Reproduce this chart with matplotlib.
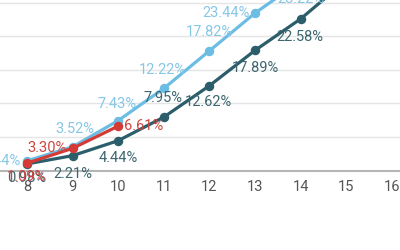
import matplotlib.pyplot as plt

# x categories and series values (percent)
x_ticks = [8, 9, 10, 11, 12, 13, 14, 15, 16]

x_light = [8, 9, 10, 11, 12, 13, 14]
light = [1.44, 3.52, 7.43, 12.22, 17.82, 23.44, 28.22]

x_dark = [8, 9, 10, 11, 12, 13, 14, 15]
dark = [0.98, 2.21, 4.44, 7.95, 12.62, 17.89, 22.58, 28.3]

x_red = [8, 9, 10]
red = [1.09, 3.30, 6.61]

# label placement per point: (dx px, dy px, ha)
light_pos = [(-6, 0, "right"), (2, 18, "center"), (-1, 17, "center"),
             (-1, 18, "center"), (0, 19, "center"), (-5, 0, "right"),
             (0, -18, "center")]
dark_pos = [(0, -14, "center"), (0, -18, "center"), (0, -17, "center"),
            (-1, 19, "center"), (-1, -16, "center"), (0, -18, "center"),
            (-1, -18, "center"), (0, 18, "center")]
red_pos = [(0, -14, "center"), (-6, 0, "right"), (6, 0, "left")]

LIGHT = "#6cbde3"
DARK = "#2b5e6a"
RED = "#d43b36"


def main() -> None:
    plt.rcParams["font.family"] = ["Roboto", "DejaVu Sans"]
    fig = plt.figure(figsize=(4, 2.5), dpi=100)
    # bottom of axes sits on the zero line (pixel 170.5 of 250)
    ax = fig.add_axes([0, (250 - 170.5) / 250, 1, 170.5 / 250])
    ax.set_xlim(7.41, 16.18)
    ax.set_ylim(0, 25.4)

    for s in ["top", "left", "right"]:
        ax.spines[s].set_visible(False)
    ax.spines["bottom"].set_color("#b5b5b5")
    ax.spines["bottom"].set_linewidth(1.5)
    ax.set_yticks([0, 5, 10, 15, 20, 25])
    ax.yaxis.grid(True, color="#e5e5e5", linewidth=1)
    ax.tick_params(axis="y", left=False, labelleft=False)
    ax.set_xticks(x_ticks)
    ax.set_xticklabels([str(v) for v in x_ticks])
    ax.tick_params(axis="x", length=0, pad=7, labelsize=10.5, labelcolor="#555555")
    ax.set_axisbelow(True)

    series = [
        (x_light, light, LIGHT, "#86c7e6", light_pos),
        (x_dark, dark, DARK, "#3c6570", dark_pos),
        (x_red, red, RED, "#d0453f", red_pos),
    ]
    for xs, ys, color, tcolor, pos in series:
        ax.plot(xs, ys, color=color, linewidth=2.3, marker="o",
                markersize=5.8, clip_on=True)
        for xv, yv, (dx, dy, ha) in zip(xs, ys, pos):
            ax.annotate(f"{yv:.2f}%", (xv, yv), xytext=(dx * 0.72, dy * 0.72),
                        textcoords="offset points", ha=ha, va="center",
                        fontsize=10.5, color=tcolor, annotation_clip=False)

    fig.savefig("out.png", dpi=100)


if __name__ == "__main__":
    main()
